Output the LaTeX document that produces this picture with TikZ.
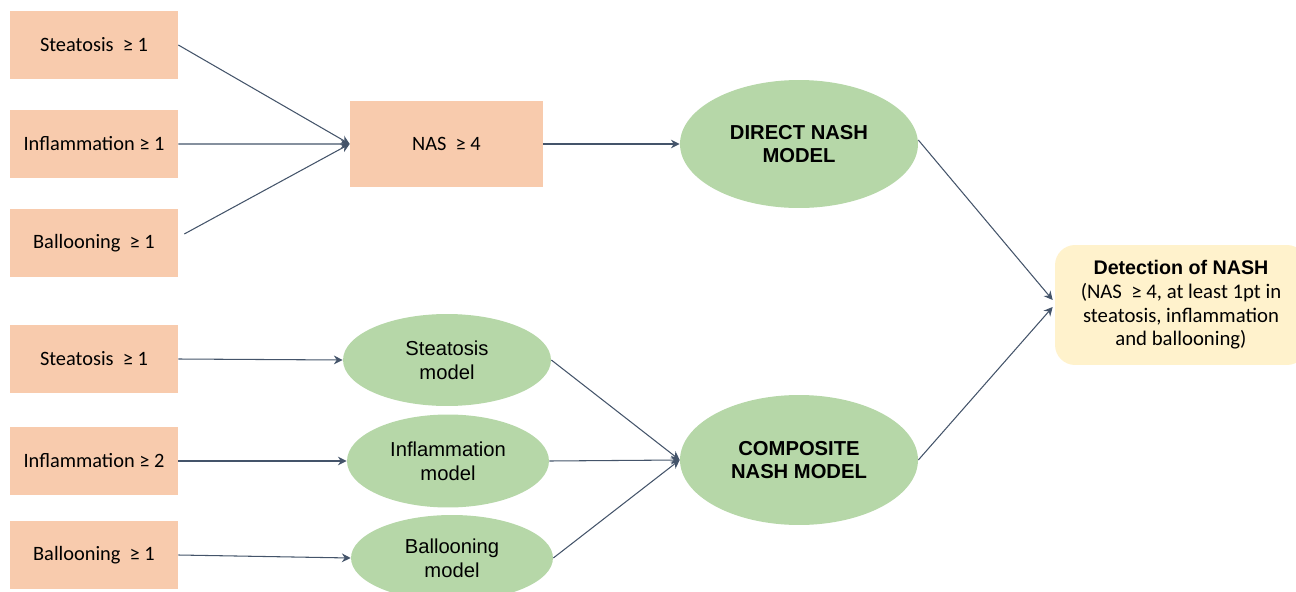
\documentclass[tikz,border=0pt]{standalone}
\usepackage{fontspec}
\setmainfont{Carlito}
\newfontfamily\arialfont{Liberation Sans}
\usepackage{xcolor}
\usepackage{tikz}
\usetikzlibrary{arrows.meta}
\usetikzlibrary{shapes.geometric}
\usetikzlibrary{positioning}

\definecolor{peach}{HTML}{F8CBAD}
\definecolor{sage}{HTML}{B6D7A8}
\definecolor{cream}{HTML}{FFF2CC}
\definecolor{slate}{HTML}{44546A}

\begin{document}
\begin{tikzpicture}[x=0.02cm,y=-0.02cm,node distance=1.98cm,>={Stealth[length=5pt,width=5pt]}]
	\tikzstyle{crit}=[fill=peach,minimum width=3.36cm,minimum height=1.36cm,inner sep=0pt,font=\fontsize{11.6}{13}\selectfont]
	\tikzstyle{model}=[ellipse,fill=sage,inner sep=0pt,minimum width=4.16cm,minimum height=1.84cm,align=center,font=\arialfont\fontsize{11.5}{13.5}\selectfont]
	\tikzstyle{nash}=[model,minimum width=4.76cm,minimum height=2.56cm,font=\arialfont\bfseries\fontsize{11.5}{13.5}\selectfont]
	\tikzstyle{link}=[->,draw=slate,line width=0.6pt]
	\useasboundingbox (0,0) rectangle (1296,592);

	% direct route
	\node[crit] (s1) at (94,45) {Steatosis~~≥ 1};
	\node[crit] (i1) [below of=s1] {Inflammation ≥ 1};
	\node[crit] (b1) [below of=i1] {Ballooning~~≥ 1};
	\node[crit,minimum width=3.86cm,minimum height=1.72cm] (nas) at (446.5,144) {NAS~~≥ 4};
	\node[nash] (direct) at (799,144) {DIRECT NASH\\MODEL};

	% composite route
	\node[crit] (s2) at (94,359) {Steatosis~~≥ 1};
	\node[crit] (i2) at (94,461) {Inflammation ≥ 2};
	\node[crit] (b2) at (94,555) {Ballooning~~≥ 1};
	\node[model] (sm) at (447,360) {Steatosis\\model};
	\node[model,minimum width=4.04cm,minimum height=1.86cm] (im) at (448,461) {Inflammation\\model};
	\node[model,minimum width=4.04cm,minimum height=1.72cm] (bm) at (452,558) {Ballooning\\model};
	\node[nash,minimum height=2.6cm] (comp) at (799,460) {COMPOSITE\\NASH MODEL};

	\node[fill=cream,rounded corners=0.4cm,minimum width=5.04cm,minimum height=2.4cm,align=center,inner sep=0pt,font=\fontsize{11.8}{13.5}\selectfont] (detect) at (1181,305)
		{{\arialfont\bfseries\fontsize{11.2}{13.5}\selectfont Detection of NASH}\\(NAS~~≥ 4, at least 1pt in\\steatosis, inflammation\\and ballooning)};

	\draw[link] (s1.east) -- (nas.west);
	\draw[link] (i1.east) -- (nas.west);
	\draw[link] ([shift={(6,-9)}]b1.east) -- (nas.west);
	\draw[link] (nas.east) -- (direct.west);
	\draw[link] ([shift={(0,-4)}]direct.east) -- ([shift={(-2,-5)}]detect.west);
	\draw[link] (s2.east) -- (sm.west);
	\draw[link] (i2.east) -- (im.west);
	\draw[link] (b2.east) -- (bm.west);
	\draw[link] (sm.east) -- (comp.west);
	\draw[link] (im.east) -- (comp.west);
	\draw[link] (bm.east) -- (comp.west);
	\draw[link] (comp.east) -- ([shift={(-2,2)}]detect.west);
\end{tikzpicture}
\end{document}
